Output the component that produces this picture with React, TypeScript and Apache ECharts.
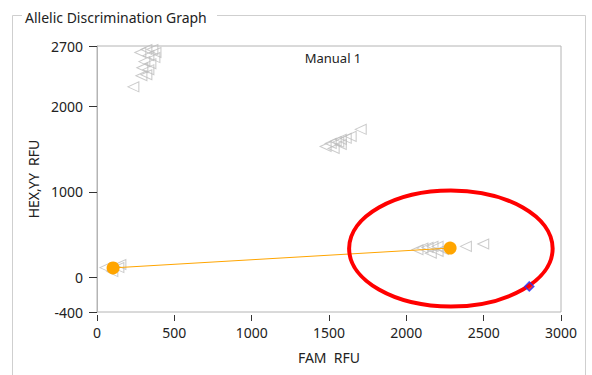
import React, { useEffect, useRef } from "react";
import * as echarts from "echarts";

// FAM RFU (x) / HEX,YY RFU (y) values
const clusterTopFam = [319, 358, 280, 378, 332, 371, 306, 345, 293, 332, 319, 287, 235];
const clusterTopHex = [2659, 2659, 2624, 2624, 2588, 2565, 2518, 2494, 2447, 2424, 2365, 2353, 2224];
const clusterMidFam = [1478, 1511, 1543, 1576, 1608, 1640, 1705, 1530, 1576, 1560];
const clusterMidHex = [1529, 1565, 1588, 1612, 1624, 1647, 1729, 1506, 1553, 1580];
const clusterRightFam = [2072, 2104, 2137, 2169, 2202, 2158, 2202, 2236, 2385, 2497];
const clusterRightHex = [326, 345, 353, 365, 365, 286, 306, 329, 365, 392];
const clusterNtcFam = [54, 138, 99, 151];
const clusterNtcHex = [118, 118, 71, 153];
const manualFam = [104, 2283];
const manualHex = [114, 345];
const selectedFam = [2795];
const selectedHex = [-102];

const xMin = 0;
const xMax = 3000;
const xInterval = 500;
const yMin = -400;
const yMax = 2700;
const yTickLabels = [-400, 0, 1000, 2000, 2700];

// annotation ellipse (data units)
const ellipseCenter = [2288, 339];
const ellipseRadius = [658, 676];

const FONT = "Noto Sans";
const TEXT = "#222";

const zip = (a: number[], b: number[]) => a.map((v, i) => [v, b[i]]);

export default function App() {
  const ref = useRef<HTMLDivElement>(null);
  useEffect(() => {
    document.body.style.margin = "0";
    const chart = echarts.init(ref.current!, null, { renderer: "svg" });
    const triangles = [
      ...zip(clusterTopFam, clusterTopHex),
      ...zip(clusterMidFam, clusterMidHex),
      ...zip(clusterRightFam, clusterRightHex),
      ...zip(clusterNtcFam, clusterNtcHex),
    ];
    chart.setOption({
      animation: false,
      backgroundColor: "#fff",
      textStyle: { fontFamily: FONT },
      title: {
        text: "Manual 1",
        left: 328,
        top: 46,
        textAlign: "center",
        textStyle: { fontFamily: FONT, fontSize: 13, fontWeight: "normal", color: TEXT },
      },
      grid: {
        left: 97,
        right: 31,
        top: 46,
        bottom: 63,
        show: true,
        borderColor: "#b4b4b4",
        borderWidth: 1,
        backgroundColor: "transparent",
        outerBoundsMode: "none",
      },
      xAxis: {
        type: "value",
        min: xMin,
        max: xMax,
        interval: xInterval,
        offset: 3,
        name: "FAM  RFU",
        nameLocation: "middle",
        nameGap: 35,
        nameTextStyle: { fontFamily: FONT, fontSize: 14, color: TEXT },
        splitLine: { show: false },
        axisLine: { show: false, onZero: false },
        axisTick: { show: true, length: 6, lineStyle: { color: "#333" } },
        axisLabel: { margin: 10, fontFamily: FONT, fontSize: 14, color: TEXT, formatter: (v: number) => String(v) },
      },
      yAxis: {
        type: "value",
        min: yMin,
        max: yMax,
        name: "HEX,YY  RFU",
        nameLocation: "middle",
        nameGap: 53,
        nameTextStyle: { fontFamily: FONT, fontSize: 14, color: TEXT },
        splitLine: { show: false },
        axisLine: { show: true, onZero: false, lineStyle: { color: "#b4b4b4" } },
        axisTick: { show: true, length: 8, customValues: yTickLabels, lineStyle: { color: "#333" } },
        axisLabel: {
          margin: 14,
          customValues: yTickLabels,
          fontFamily: FONT,
          fontSize: 14,
          color: TEXT,
          formatter: (v: number) => String(v),
        },
      },
      series: [
        {
          type: "scatter",
          data: triangles,
          symbol: "triangle",
          symbolRotate: 90,
          symbolSize: [10, 11],
          itemStyle: { color: "rgba(255,255,255,0)", borderColor: "#bdbdbd", borderWidth: 1 },
          z: 2,
        },
        {
          type: "line",
          data: zip(manualFam, manualHex),
          symbol: "circle",
          symbolSize: 13,
          showSymbol: true,
          itemStyle: { color: "#ffa500" },
          lineStyle: { color: "#ffa500", width: 1 },
          z: 3,
        },
        {
          type: "scatter",
          data: zip(selectedFam, selectedHex),
          symbol: "diamond",
          symbolSize: 9,
          itemStyle: { color: "#ff0000", borderColor: "#2233ff", borderWidth: 1.5 },
          z: 20,
        },
      ],
    });

    const c = chart.convertToPixel({ gridIndex: 0 }, ellipseCenter) as number[];
    const e = chart.convertToPixel({ gridIndex: 0 }, [
      ellipseCenter[0] + ellipseRadius[0],
      ellipseCenter[1] + ellipseRadius[1],
    ]) as number[];
    const rx = Math.abs(e[0] - c[0]);
    const ry = Math.abs(c[1] - e[1]);

    chart.setOption({
      graphic: [
        {
          type: "polyline",
          z: 1,
          shape: { points: [[217, 15.5], [585.5, 15.5], [585.5, 375]] },
          style: { stroke: "#cfcfcf", lineWidth: 1, fill: null },
          silent: true,
        },
        {
          type: "polyline",
          z: 1,
          shape: { points: [[22, 15.5], [12.5, 15.5], [12.5, 375]] },
          style: { stroke: "#cfcfcf", lineWidth: 1, fill: null },
          silent: true,
        },
        {
          type: "text",
          z: 1,
          x: 25,
          y: 17,
          style: {
            text: "Allelic Discrimination Graph",
            fontFamily: FONT,
            fontSize: 14,
            fill: TEXT,
            verticalAlign: "middle",
          },
          silent: true,
        },
        {
          type: "ellipse",
          z: 10,
          shape: { cx: c[0], cy: c[1], rx, ry },
          style: { stroke: "#ff0000", lineWidth: 4, fill: null },
          silent: true,
        },
      ],
    });
    return () => chart.dispose();
  }, []);
  return (
    <div
      ref={ref}
      style={{ position: "fixed", left: 0, top: 0, width: 592, height: 375 }}
    />
  );
}
